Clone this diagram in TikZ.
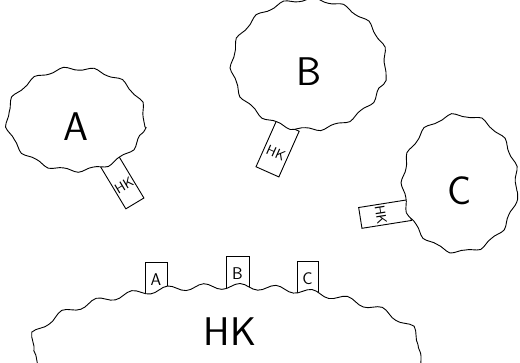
\documentclass[tikz,border=0pt]{standalone}
\usepackage{tikz}
\usetikzlibrary{shapes.geometric, decorations.pathmorphing}

\begin{document}
\begin{tikzpicture}
	[x=1pt, y=-1pt, line width=0.9pt,
	 cloud/.style = {ellipse, draw, fill=white, inner sep=0pt, decorate, decoration={snake, amplitude=1.8pt, segment length=30pt}, font=\sffamily\fontsize{40}{40}\selectfont},
	 tag/.style = {rectangle, draw, fill=white, minimum width=21pt, minimum height=50pt, inner sep=1pt, text height=20pt, text depth=2pt, font=\sffamily\fontsize{14}{14}\selectfont},
	 flag/.style = {rectangle, draw, fill=white, minimum width=22pt, minimum height=44pt, inner sep=1pt, text height=12pt, text depth=10pt, font=\sffamily\fontsize{17}{17}\selectfont}]
	\useasboundingbox (0,0) rectangle (520,362);
	\clip (0,0) rectangle (520,362);
	% tags first, the clouds cover their ends
	\node[tag, rotate=31] (ta) at (122,182) {HK};
	\node[tag, rotate=-24, minimum width=25pt] (tb) at (277.6,149) {HK};
	\node[tag, rotate=-81] (tc) at (385,214) {HK};
	\node[flag] (fa) at (156,284) {A};
	\node[flag, minimum width=23pt] (fb) at (237.5,278) {B};
	\node[flag, minimum width=21pt] (fc) at (307.5,283) {C};
	% clouds
	\node[cloud, minimum width=138pt, minimum height=102pt] (a) at (76,127) {A};
	\node[cloud, minimum width=154pt, minimum height=130pt] (b) at (309,72) {B};
	\node[cloud, minimum width=114pt, minimum height=137pt] (c) at (460,191) {C};
	\node[cloud, minimum width=390pt, minimum height=120pt, decoration={snake, amplitude=3pt, segment length=36pt}] (hk) at (226,356) {};
	\node[font=\sffamily\fontsize{40}{40}\selectfont] (hktext) at (230,332) {HK};
\end{tikzpicture}
\end{document}
